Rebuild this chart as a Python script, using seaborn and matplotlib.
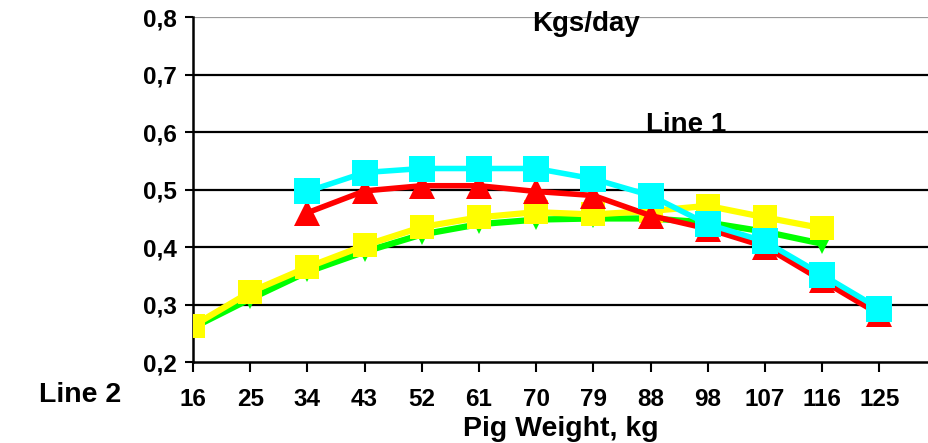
import numpy as np
import pandas as pd
import matplotlib
matplotlib.use("Agg")
import matplotlib.pyplot as plt
import seaborn as sns

nan = np.nan

weights = ["16", "25", "34", "43", "52", "61", "70", "79", "88", "98", "107", "116", "125"]

green_vals = [0.26, 0.31, 0.357, 0.392, 0.422, 0.44, 0.448, 0.45, 0.45, 0.443, 0.427, 0.406, nan]
yellow_vals = [0.263, 0.322, 0.365, 0.403, 0.435, 0.452, 0.461, 0.457, 0.463, 0.472, 0.452, 0.433, nan]
red_vals = [nan, nan, 0.46, 0.498, 0.507, 0.507, 0.497, 0.49, 0.455, 0.432, 0.401, 0.342, 0.283]
cyan_vals = [nan, nan, 0.497, 0.53, 0.537, 0.537, 0.537, 0.519, 0.49, 0.44, 0.41, 0.352, 0.293]

y_ticks = [0.2, 0.3, 0.4, 0.5, 0.6, 0.7, 0.8]

sns.set_style("white")
plt.rcParams["font.family"] = ["Liberation Sans", "DejaVu Sans"]
plt.rcParams["font.weight"] = "bold"
plt.rcParams["text.color"] = "black"
plt.rcParams["axes.labelcolor"] = "black"
plt.rcParams["xtick.color"] = "black"
plt.rcParams["ytick.color"] = "black"

fig = plt.figure(figsize=(9.29, 4.43), dpi=100)
ax = fig.add_axes([0.2078, 0.1828, 0.7922, 0.7777])

xpos = np.arange(len(weights))

series = [
    ("green", green_vals, "#00FF00", "v", 14, 4.5),
    ("yellow", yellow_vals, "#FFFF00", "s", 17, 4.5),
    ("red", red_vals, "#FF0000", "^", 19, 4.0),
    ("cyan", cyan_vals, "#00FFFF", "s", 19, 4.0),
]

for name, vals, color, marker, ms, lw in series:
    df = pd.DataFrame({"x": xpos, "y": vals}).dropna()
    sns.lineplot(data=df, x="x", y="y", ax=ax, color=color, marker=marker,
                 markersize=ms, linewidth=lw, markeredgewidth=0, zorder=3)

for v in y_ticks[1:-1]:
    ax.axhline(v, color="black", lw=1.6, zorder=1)
ax.axhline(0.8, color="#9a9a9a", lw=1.6, zorder=1)

ax.set_ylim(0.2, 0.8)
ax.set_xlim(0, 12.87)
ax.set_yticks(y_ticks)
ax.set_yticklabels([f"{v:.1f}".replace(".", ",") for v in y_ticks], fontsize=17.5, fontweight="bold")
ax.set_xticks(xpos)
ax.set_xticklabels(weights, fontsize=17.5, fontweight="bold")
ax.tick_params(axis="x", length=7, width=1.5, pad=12, color="black", direction="out", bottom=True)
ax.tick_params(axis="y", length=6, width=1.5, pad=6, color="black", direction="out", left=True)

for s in ["top", "right"]:
    ax.spines[s].set_visible(False)
for s in ["left", "bottom"]:
    ax.spines[s].set_color("black")
    ax.spines[s].set_linewidth(1.8)

ax.set_xlabel("Pig Weight, kg", fontsize=20.5, fontweight="bold", labelpad=3, color="black")
ax.set_ylabel("")

fig.text(586 / 929, 1 - 24 / 443, "Kgs/day", ha="center", va="center", fontsize=20, fontweight="bold")
fig.text(686 / 929, 1 - 125 / 443, "Line 1", ha="center", va="center", fontsize=20, fontweight="bold")
fig.text(80 / 929, 1 - 395 / 443, "Line 2", ha="center", va="center", fontsize=20.5, fontweight="bold")

fig.savefig("out.png", dpi=100)
